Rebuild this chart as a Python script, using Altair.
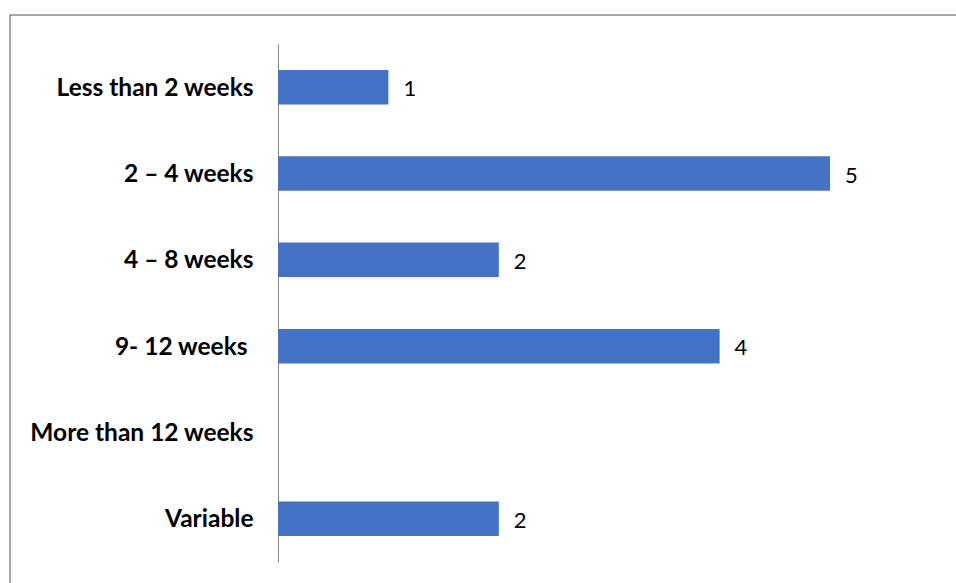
import altair as alt
import pandas as pd

categories = ["Less than 2 weeks", "2 \u2013 4 weeks", "4 \u2013 8 weeks", "9- 12 weeks\u00a0\u200b", "More than 12 weeks", "Variable"]
values = [1, 5, 2, 4, None, 2]

df = pd.DataFrame({"cat": categories, "val": values})

W, H = 552, 518
LEFT, TOP = 278, 44

yenc = alt.Y("cat:N", sort=categories,
             scale=alt.Scale(paddingInner=0.6, paddingOuter=0.3),
             axis=alt.Axis(title=None, ticks=False, domain=True, domainColor="#868686",
                           domainWidth=1, labelPadding=25, labelFont="Lato", labelOffset=1.5,
                           labelFontSize=24.5, labelFontWeight="bold", labelColor="#000000",
                           labelLimit=300))
xenc = alt.X("val:Q", scale=alt.Scale(domain=[0, 5], nice=False, zero=True),
             axis=None)

bars = alt.Chart(df).mark_bar(color="#4472C4").encode(x=xenc, y=yenc)
labels = alt.Chart(df).transform_filter("datum.val != null").mark_text(
    align="left", baseline="middle", dx=15, dy=2, font="Lato", fontSize=22, color="#000000"
).encode(x=xenc, y=alt.Y("cat:N", sort=categories), text=alt.Text("val:Q"))

border = alt.Chart(pd.DataFrame({"a": [0]})).mark_rect(
    fill=None, stroke="#8c8c8c", strokeWidth=1.5, clip=False
).encode(x=alt.value(10 - LEFT), y=alt.value(15 - TOP),
         x2=alt.value(956 - LEFT + 20), y2=alt.value(583 - TOP + 20))

chart = alt.layer(border, bars, labels).properties(
    width=W, height=H,
    padding={"left": LEFT, "top": TOP, "right": 956 - LEFT - W, "bottom": 583 - TOP - H},
    autosize=alt.AutoSizeParams(type="none"),
    background="white",
).configure_view(stroke=None)

chart.save("out.html", embed_options={"renderer": "svg", "actions": False})
